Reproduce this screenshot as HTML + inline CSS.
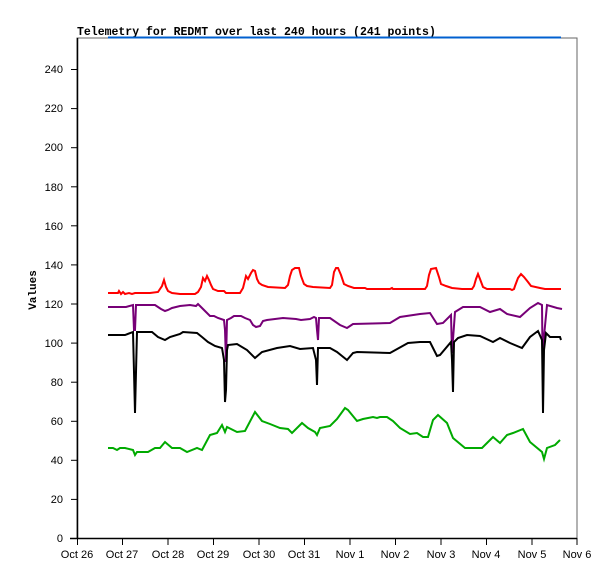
<!DOCTYPE html>
<html><head><meta charset="utf-8"><style>body{margin:0;background:#fff}svg{display:block}</style></head>
<body>
<svg width="615" height="579" xmlns="http://www.w3.org/2000/svg" font-family="Liberation Sans, sans-serif" font-size="11">
<rect width="615" height="579" fill="#fff"/>
<text x="77" y="35" font-family="Liberation Mono, monospace" font-weight="bold" font-size="11.5">Telemetry for REDMT over last 240 hours (241 points)</text>
<polyline points="77,538 77,38 577,38 577,538" fill="none" stroke="#666" stroke-width="1"/>
<line x1="108" y1="37.5" x2="561" y2="37.5" stroke="#0060d0" stroke-width="2"/>
<line x1="77.5" y1="38" x2="77.5" y2="539" stroke="#000" stroke-width="1.5"/>
<line x1="70" y1="538.5" x2="577" y2="538.5" stroke="#000" stroke-width="1.5"/>
<g stroke="#000" stroke-width="1">
<line x1="71" x2="77" y1="538.5" y2="538.5"/><line x1="71" x2="77" y1="499.4" y2="499.4"/><line x1="71" x2="77" y1="460.3" y2="460.3"/><line x1="71" x2="77" y1="421.3" y2="421.3"/><line x1="71" x2="77" y1="382.2" y2="382.2"/><line x1="71" x2="77" y1="343.1" y2="343.1"/><line x1="71" x2="77" y1="304" y2="304"/><line x1="71" x2="77" y1="264.9" y2="264.9"/><line x1="71" x2="77" y1="225.8" y2="225.8"/><line x1="71" x2="77" y1="186.8" y2="186.8"/><line x1="71" x2="77" y1="147.7" y2="147.7"/><line x1="71" x2="77" y1="108.6" y2="108.6"/><line x1="71" x2="77" y1="69.5" y2="69.5"/>
<line y1="538" y2="545" x1="77.5" x2="77.5"/><line y1="538" y2="545" x1="122.5" x2="122.5"/><line y1="538" y2="545" x1="168" x2="168"/><line y1="538" y2="545" x1="213.5" x2="213.5"/><line y1="538" y2="545" x1="259" x2="259"/><line y1="538" y2="545" x1="304.5" x2="304.5"/><line y1="538" y2="545" x1="350" x2="350"/><line y1="538" y2="545" x1="395.5" x2="395.5"/><line y1="538" y2="545" x1="441" x2="441"/><line y1="538" y2="545" x1="486.5" x2="486.5"/><line y1="538" y2="545" x1="532" x2="532"/><line y1="538" y2="545" x1="577" x2="577"/>
</g>
<g text-anchor="end">
<text x="63" y="542">0</text><text x="63" y="503">20</text><text x="63" y="464">40</text><text x="63" y="425">60</text><text x="63" y="386">80</text><text x="63" y="347">100</text><text x="63" y="308">120</text><text x="63" y="269">140</text><text x="63" y="230">160</text><text x="63" y="191">180</text><text x="63" y="112">220</text><text x="63" y="151">200</text><text x="63" y="73">240</text>
</g>
<g text-anchor="middle">
<text x="77" y="558">Oct 26</text><text x="122" y="558">Oct 27</text><text x="168" y="558">Oct 28</text><text x="213" y="558">Oct 29</text><text x="259" y="558">Oct 30</text><text x="304" y="558">Oct 31</text><text x="350" y="558">Nov 1</text><text x="395" y="558">Nov 2</text><text x="441" y="558">Nov 3</text><text x="486" y="558">Nov 4</text><text x="532" y="558">Nov 5</text><text x="577" y="558">Nov 6</text>
</g>
<text transform="translate(36,290) rotate(-90)" text-anchor="middle" font-family="Liberation Mono, monospace" font-weight="bold" font-size="11">Values</text>
<g fill="none" stroke-width="2" stroke-linejoin="miter">
<polyline stroke="#ff0000" points="108,293 118,293 119,291 121,294 123,292 125,294 129,293 132,294 135,293 150,293 158,292 160,289 162,286 164,280 166,287 168,291 172,293 180,294 195,294 198,292 201,287 203,278 205,281 207,276 209,280 211,285 213,289 218,291 224,291 226,293 240,293 243,288 246,276 248,279 251,273 253,270 255,271 257,279 259,283 262,285 268,287 285,288 288,285 290,276 292,270 295,268 299,268 301,276 304,284 307,286 313,287 330,288 332,285 334,272 336,268 338,268 341,275 344,284 348,286 354,288 365,288 367,289 390,289 392,288 393,289 425,289 427,286 429,275 431,269 436,268 439,277 441,284 446,286 452,288 462,289 472,289 474,286 476,279 478,274 480,279 483,287 487,289 510,289 512,290 514,289 515,286 518,278 521,274 524,277 528,282 531,286 540,288 545,289 561,289"/>
<polyline stroke="#770077" points="108,307 126,307 133,305 134,330 135,330 136,305 155,305 158,307 161,309 165,311 168,310 172,308 180,306 190,305 196,306 198,304 201,307 205,311 210,316 214,316 218,318 224,320 225,330 226,362 227,320 231,318 234,316 241,316 245,318 250,320 253,325 256,327 260,326 263,321 267,320 283,318 296,319 301,320 310,319 314,317 316,318 317,330 318,340 319,318 325,318 330,318 340,325 347,328 353,324 390,323 400,317 420,314 430,313 437,324 443,323 451,315 452,353 455,312 463,307 480,307 490,312 500,309 507,314 520,317 530,308 538,303 542,305 542.5,352 547,305 557,308 562,309"/>
<polyline stroke="#000000" points="108,335 125,335 133,332 134,372 135,413 136,372 137,332 152,332 158,337 165,340 170,337 180,334 183,332 197,333 202,337 208,342 215,346 222,348 224,360 225,402 226,390 227,350 228,345 237,344 247,350 255,358 262,352 277,348 290,346 300,349 313,348 316,360 317,385 318,348 330,348 337,352 347,360 353,353 357,352 390,353 408,343 420,342 430,342 437,356 440,355 451,342 452,360 453,392 454,342 458,338 467,335 480,336 493,342 500,338 510,343 522,348 530,337 538,331 542,340 543,413 544,350 546,333 550,337 560,337 561,340"/>
<polyline stroke="#00aa00" points="108,448 113,448 117,450 120,448 125,448 133,450 135,455 137,452 148,452 155,448 160,448 165,442 172,448 180,448 187,452 197,448 202,450 210,435 217,433 222,425 225,432 227,427 237,432 245,431 255,412 262,421 270,424 280,428 288,429 292,433 302,423 308,428 315,432 317,435 320,428 330,426 337,419 345,408 348,410 357,421 363,419 373,417 377,418 380,417 387,417 393,421 400,428 410,434 417,433 423,437 428,437 433,420 438,415 447,423 453,438 465,448 482,448 487,443 493,437 500,443 507,435 513,433 523,429 530,442 542,452 544,459 547,448 555,445 560,440"/>
</g>
</svg>
</body></html>
